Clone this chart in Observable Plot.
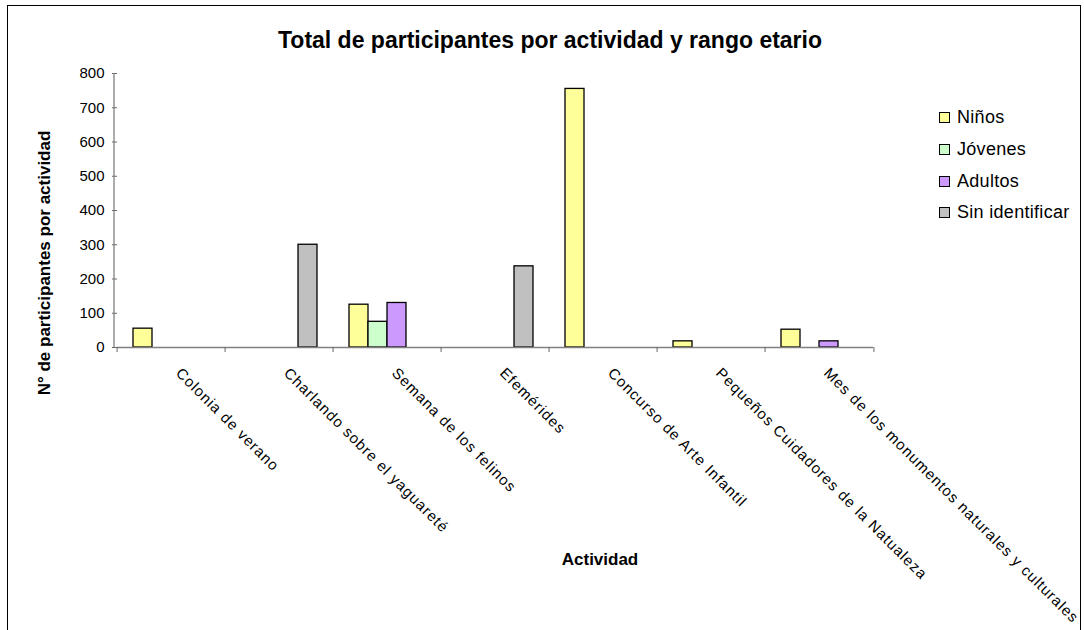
<!DOCTYPE html>
<html>
<head>
<meta charset="utf-8">
<script src="https://cdn.jsdelivr.net/npm/d3@7"></script>
<script src="https://cdn.jsdelivr.net/npm/@observablehq/plot@0.6"></script>
<style>
  html, body { margin: 0; padding: 0; background: #fff; overflow: hidden; }
  body { width: 1084px; height: 630px; position: relative; font-family: "Liberation Sans", Arial, sans-serif; }
  #chart { position: absolute; left: 0; top: 0; }
  #frame { position: absolute; left: 7px; top: 5px; width: 1074px; height: 640px; border: 1px solid #000; box-sizing: border-box; }
  .title { position: absolute; left: 0; width: 1100px; top: 27px; text-align: center; font-weight: bold; font-size: 23px; white-space: nowrap; }
  .ylabel { position: absolute; left: 45px; top: 263px; transform: translate(-50%, -50%) rotate(-90deg); font-weight: bold; font-size: 17px; white-space: nowrap; }
  .xlabel { position: absolute; left: 600px; top: 550px; transform: translateX(-50%); font-weight: bold; font-size: 17px; white-space: nowrap; }
  .legend { position: absolute; left: 939px; top: 102px; font-size: 18px; }
  .legend .row { display: flex; align-items: center; height: 31.7px; white-space: nowrap; letter-spacing: 0.3px; }
  .legend .sw { width: 9px; height: 9px; border: 1px solid #000; margin-right: 7px; }
</style>
</head>
<body>
<div id="frame"></div>
<div id="chart"></div>
<script>
const categories = [
  "Colonia de verano",
  "Charlando sobre el yaguareté",
  "Semana de los felinos",
  "Efemérides",
  "Concurso de Arte Infantil",
  "Pequeños Cuidadores de la Natualeza",
  "Mes de los monumentos naturales y culturales"
];
const groups = ["Niños", "Jóvenes", "Adultos", "Sin identificar"];
const ninos          = [55, 0, 125, 0, 755, 18, 52];
const jovenes        = [0, 0, 75, 0, 0, 0, 0];
const adultos        = [0, 0, 130, 0, 0, 0, 18];
const sinIdentificar = [0, 300, 0, 237, 0, 0, 0];
const groupColors = ["#FFFF99", "#CCFFCC", "#CC99FF", "#C0C0C0"];
const yTicks = [0, 100, 200, 300, 400, 500, 600, 700, 800];
const titleText = "Total de participantes por actividad y rango etario";
const yLabelText = "N° de participantes por actividad";
const xLabelText = "Actividad";

const series = [ninos, jovenes, adultos, sinIdentificar];
const rows = [];
categories.forEach((c, i) => {
  groups.forEach((g, j) => {
    const v = series[j][i];
    if (v > 0) rows.push({actividad: c, grupo: g, valor: v});
  });
});

const W = 1084, H = 630, ML = 114, MR = 208, MT = 73, MB = 283;
const step = (W - ML - MR) / categories.length;

const chart = Plot.plot({
  width: W, height: H,
  marginLeft: ML, marginRight: MR, marginTop: MT, marginBottom: MB,
  style: {fontFamily: '"Liberation Sans", Arial, sans-serif', background: "transparent", overflow: "visible"},
  fx: {domain: categories, padding: 0, axis: null},
  x: {domain: groups, paddingInner: 0, paddingOuter: 0.79, axis: null},
  y: {domain: [0, 800], axis: null},
  color: {domain: groups, range: groupColors},
  marks: [
    Plot.axisY({ticks: yTicks, tickSize: 5, tickPadding: 8, label: null, fontSize: 15, stroke: "#666", fill: "#000"}),
    Plot.barY(rows, {fx: "actividad", x: "grupo", y: "valor", fill: "grupo", stroke: "#000", strokeWidth: 1.3}),
    Plot.ruleY([0], {stroke: "#808080", strokeWidth: 1.3}),
    Plot.axisFx({anchor: "bottom", tickSize: 5, tickFormat: () => "", dx: -step/2, label: null, stroke: "#666"}),
    Plot.axisFx({anchor: "bottom", ticks: [categories[categories.length - 1]], tickSize: 5, tickFormat: () => "", dx: step/2, label: null, stroke: "#666"}),
    Plot.text(categories, {fx: d => d, text: d => d, frameAnchor: "bottom", rotate: 45, textAnchor: "start", lineAnchor: "top", dx: 11, dy: 19, fontSize: 15, fill: "#000"})
  ]
});
document.getElementById("chart").appendChild(chart);

// y axis line along the left edge of the plot area
const svg = d3.select(chart);
const yScale = chart.scale("y");
svg.append("line")
  .attr("x1", ML).attr("x2", ML)
  .attr("y1", yScale.apply(800)).attr("y2", yScale.apply(0))
  .attr("stroke", "#808080").attr("stroke-width", 1.3);
svg.selectAll('g[aria-label="text"] text').style("letter-spacing", "1px");

// title, axis labels and legend
const body = d3.select("body");
body.append("div").attr("class", "title").text(titleText);
body.append("div").attr("class", "ylabel").text(yLabelText);
body.append("div").attr("class", "xlabel").text(xLabelText);
const legend = body.append("div").attr("class", "legend");
groups.forEach((g, i) => {
  const r = legend.append("div").attr("class", "row");
  r.append("div").attr("class", "sw").style("background", groupColors[i]);
  r.append("span").text(g);
});
</script>
</body>
</html>
